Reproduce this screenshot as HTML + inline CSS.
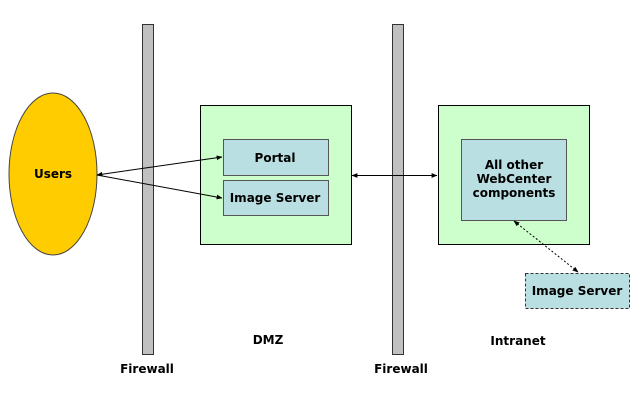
<!DOCTYPE html>
<html><head><meta charset="utf-8"><style>
html,body{margin:0;padding:0;background:#fff;}
svg{display:block;}
text{font-family:"DejaVu Sans","Liberation Sans",sans-serif;font-weight:bold;font-size:12px;fill:#000;}
</style></head><body>
<svg width="640" height="411" viewBox="0 0 640 411" xmlns="http://www.w3.org/2000/svg">
<defs>
<marker id="a" viewBox="0 0 10 10" refX="9" refY="5" markerWidth="6" markerHeight="6" orient="auto-start-reverse"><path d="M0,1 L10,5 L0,9 z" fill="#000"/></marker>
</defs>
<rect x="142.5" y="24.5" width="11" height="330" fill="#c0c0c0" stroke="#333"/>
<rect x="392.5" y="24.5" width="11" height="330" fill="#c0c0c0" stroke="#333"/>
<ellipse cx="53" cy="174" rx="44" ry="81" fill="#ffcc00" stroke="#444"/>
<text x="53" y="178" text-anchor="middle">Users</text>
<rect x="200.5" y="105.5" width="151" height="139" fill="#ccffcc" stroke="#000"/>
<rect x="223.5" y="139.5" width="105" height="36" fill="#b9dfe3" stroke="#555"/>
<text x="275" y="162" text-anchor="middle">Portal</text>
<rect x="223.5" y="180.5" width="105" height="35" fill="#b9dfe3" stroke="#555"/>
<text x="275" y="202" text-anchor="middle">Image Server</text>
<rect x="438.5" y="105.5" width="151" height="139" fill="#ccffcc" stroke="#000"/>
<rect x="461.5" y="139.5" width="105" height="81" fill="#b9dfe3" stroke="#555"/>
<text x="514" y="169" text-anchor="middle">All other</text>
<text x="514" y="183" text-anchor="middle">WebCenter</text>
<text x="514" y="197" text-anchor="middle">components</text>
<rect x="525.5" y="273.5" width="104" height="35" fill="#b9dfe3" stroke="#333" stroke-dasharray="3,2"/>
<text x="577" y="295" text-anchor="middle">Image Server</text>
<line x1="97" y1="175" x2="222" y2="157" stroke="#000" marker-start="url(#a)" marker-end="url(#a)"/>
<line x1="97" y1="175" x2="222" y2="198" stroke="#000" marker-end="url(#a)"/>
<line x1="352" y1="175.5" x2="437" y2="175.5" stroke="#000" marker-start="url(#a)" marker-end="url(#a)"/>
<line x1="514" y1="221" x2="578" y2="272" stroke="#000" stroke-dasharray="2,2" marker-start="url(#a)" marker-end="url(#a)"/>
<text x="268" y="344" text-anchor="middle">DMZ</text>
<text x="518" y="345" text-anchor="middle">Intranet</text>
<text x="147" y="373" text-anchor="middle">Firewall</text>
<text x="401" y="373" text-anchor="middle">Firewall</text>
</svg>
</body></html>
